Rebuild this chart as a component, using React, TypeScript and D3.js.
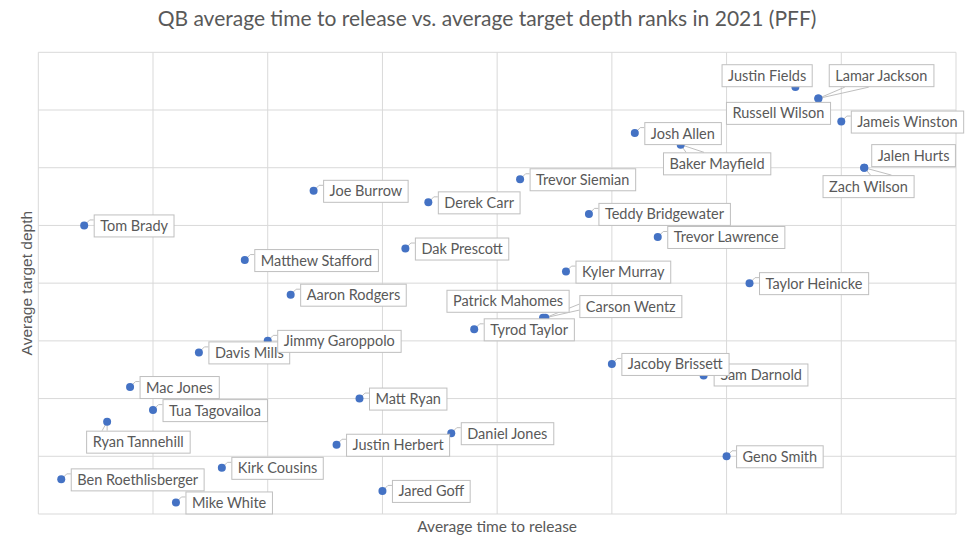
import * as d3 from "d3";
import * as React from "react";

// PFF 2021 ranks: x = average time to release, y = average target depth
const names = [
    "Ben Roethlisberger", "Tom Brady", "Ryan Tannehill", "Mac Jones", "Tua Tagovailoa",
    "Mike White", "Davis Mills", "Kirk Cousins", "Matthew Stafford", "Jimmy Garoppolo",
    "Aaron Rodgers", "Joe Burrow", "Justin Herbert", "Matt Ryan", "Jared Goff",
    "Dak Prescott", "Derek Carr", "Daniel Jones", "Tyrod Taylor", "Trevor Siemian",
    "Patrick Mahomes", "Carson Wentz", "Kyler Murray", "Teddy Bridgewater", "Jacoby Brissett",
    "Josh Allen", "Trevor Lawrence", "Baker Mayfield", "Sam Darnold", "Geno Smith",
    "Taylor Heinicke", "Justin Fields", "Lamar Jackson", "Russell Wilson", "Jameis Winston",
    "Jalen Hurts", "Zach Wilson",
];
const releaseRank = [
    1, 2, 3, 4, 5,
    6, 7, 8, 9, 10,
    11, 12, 13, 14, 15,
    16, 17, 18, 19, 21,
    22, 22.1, 23, 24, 25,
    26, 27, 28, 29, 30,
    31, 33, 34, 34, 35,
    36, 36,
];
const depthRank = [
    3, 25, 8, 11, 9,
    1, 14, 4, 22, 15,
    19, 28, 6, 10, 2,
    23, 27, 7, 16, 29,
    17, 17, 21, 26, 13,
    33, 24, 32, 12, 5,
    20, 37, 36, 36, 34,
    30, 30,
];
const gridTicks = [0, 5, 10, 15, 20, 25, 30, 35, 40];

const title = "QB average time to release vs. average target depth ranks in 2021 (PFF)";
const xTitle = "Average time to release";
const yTitle = "Average target depth";

// where a label sits when Excel moved it off the default spot (px from the point)
type Place = { dx?: number, right?: number, dy: number, leader?: "none" | "wedge", edge?: "top" | "bottom" | "left", at?: [number, number] };
const placed: { [k: string]: Place } = {
    "Ryan Tannehill": { dx: -21, dy: 9, leader: "wedge", edge: "top", at: [16, 21] },
    "Patrick Mahomes": { right: 25.6, dy: -28, leader: "none" },
    "Carson Wentz": { dx: 34, dy: -22.7, leader: "wedge", edge: "left", at: [9, 15] },
    "Justin Fields": { right: 16.3, dy: -22.7, leader: "none" },
    "Lamar Jackson": { dx: 10.4, dy: -34.3, leader: "wedge", edge: "bottom", at: [16, 40] },
    "Russell Wilson": { right: 11.7, dy: 3.4, leader: "none" },
    "Baker Mayfield": { dx: -17.7, dy: 7.7, leader: "wedge", edge: "top", at: [23, 41] },
    "Jalen Hurts": { dx: 7, dy: -23.6, leader: "none" },
    "Zach Wilson": { dx: -41.7, dy: 7.4, leader: "wedge", edge: "top", at: [48, 69] },
    "Sam Darnold": { dx: 10, dy: -12 },
};
// drawn last so they sit on top
const lateLabels = ["Jacoby Brissett", "Jimmy Garoppolo", "Josh Allen"];

const width = 974;
const height = 550;
const margin = { top: 52.3, right: 18, bottom: 36, left: 38.3 };
const labelFont = "14.5px Lato";
const grey = "#595959";

const ctx = document.createElement("canvas").getContext("2d")!;
function measure(text: string, font: string) {
    ctx.font = font;
    return ctx.measureText(text).width;
}

export default function App() {
    const x = d3.scaleLinear().domain([0, 40]).range([margin.left, width - margin.right]);
    const y = d3.scaleLinear().domain([0, 40]).range([height - margin.bottom, margin.top]);

    const boxH = 23;
    const labels = names.map((name, i) => {
        const px = x(releaseRank[i]);
        const py = y(depthRank[i]);
        const w = measure(name, labelFont) + 12;
        const p = placed[name] || { dx: 9.5, dy: -11 };
        const left = p.right !== undefined ? px + p.right - w : px + (p.dx ?? 9.5);
        const top = py + p.dy;
        let leader = "";
        if (p.leader === "wedge") {
            const [a, b] = p.at!;
            if (p.edge === "top") leader = `M${px},${py}L${left + a},${top}M${px},${py}L${left + b},${top}`;
            else if (p.edge === "bottom") leader = `M${px},${py}L${left + a},${top + boxH}M${px},${py}L${left + b},${top + boxH}`;
            else leader = `M${px},${py}L${left},${top + a}M${px},${py}L${left},${top + b}`;
        } else if (p.leader !== "none") {
            const ly = top + 5.5;
            leader = `M${px + 2},${py - 2}L${left - 4},${ly}L${left},${ly}`;
        }
        return { name, px, py, w, left, top, leader };
    });
    const ordered = [
        ...labels.filter(l => !lateLabels.includes(l.name)),
        ...labels.filter(l => lateLabels.includes(l.name)),
    ];

    return (
        <div style={{ position: "absolute", left: 0, top: 0 }}>
            <svg width={width} height={height} style={{ display: "block", background: "#fff" }}>
                <text x={width / 2} y={26} textAnchor="middle" fill={grey}
                    style={{ font: "21px Lato" }}>{title}</text>

                <g stroke="#d9d9d9" strokeWidth={1}>
                    {gridTicks.map(t => (
                        <line key={"v" + t} x1={x(t)} x2={x(t)} y1={y(0)} y2={y(40)} />
                    ))}
                    {gridTicks.map(t => (
                        <line key={"h" + t} x1={x(0)} x2={x(40)} y1={y(t)} y2={y(t)} />
                    ))}
                </g>

                <g fill="none" stroke="#bfbfbf" strokeWidth={1}>
                    {labels.filter(l => l.leader).map(l => <path key={l.name} d={l.leader} />)}
                </g>

                <g fill="#4472c4">
                    {labels.map(l => <circle key={l.name} cx={l.px} cy={l.py} r={4} />)}
                </g>

                <g>
                    {ordered.map(l => (
                        <g key={l.name} transform={`translate(${l.left},${l.top})`}>
                            <rect x={0.5} y={0.5} width={l.w} height={boxH - 1} fill="#fff" stroke="#bfbfbf" />
                            <text x={6.5} y={16.5} fill={grey} style={{ font: labelFont }}>{l.name}</text>
                        </g>
                    ))}
                </g>

                <text x={(x(0) + x(40)) / 2} y={532} textAnchor="middle" fill={grey}
                    style={{ font: "15.5px Lato" }}>{xTitle}</text>
                <text transform={`translate(32,${(y(0) + y(40)) / 2}) rotate(-90)`} textAnchor="middle" fill={grey}
                    style={{ font: "15.5px 'Liberation Sans'" }}>{yTitle}</text>
            </svg>
        </div>
    );
}
